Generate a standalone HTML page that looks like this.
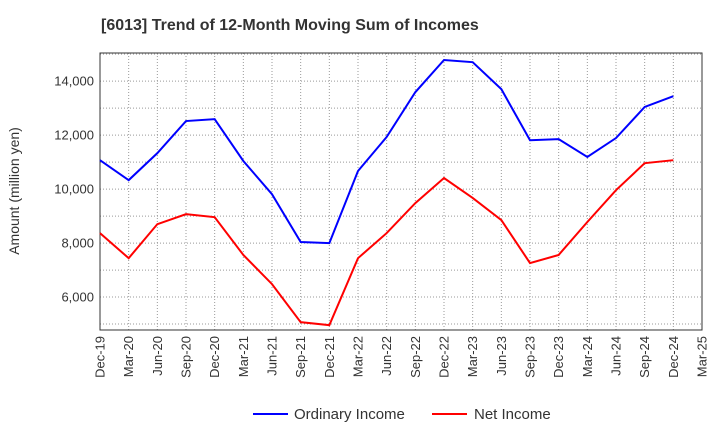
<!DOCTYPE html>
<html><head><meta charset="utf-8"><style>
body{margin:0;background:#fff;font-family:"Liberation Sans",Arial,sans-serif;}
</style></head><body>
<svg id="chart" width="720" height="440" xmlns="http://www.w3.org/2000/svg" font-family="Liberation Sans, Arial, sans-serif">
<text x="101" y="30" font-size="16" font-weight="bold" fill="#333">[6013]  Trend of 12-Month Moving Sum of Incomes</text>
<text transform="translate(19,191) rotate(-90)" text-anchor="middle" font-size="14" fill="#333">Amount (million yen)</text>
<g id="grid"></g><g id="axes"></g><g id="series"></g>
<g>
<line x1="253" y1="414" x2="288" y2="414" stroke="#0000ff" stroke-width="2"/>
<text x="294" y="419" font-size="15" fill="#333">Ordinary Income</text>
<line x1="432" y1="414" x2="467" y2="414" stroke="#ff0000" stroke-width="2"/>
<text x="474" y="419" font-size="15" fill="#333">Net Income</text>
</g>
</svg>
<script>
const categories=["Dec-19","Mar-20","Jun-20","Sep-20","Dec-20","Mar-21","Jun-21","Sep-21","Dec-21","Mar-22","Jun-22","Sep-22","Dec-22","Mar-23","Jun-23","Sep-23","Dec-23","Mar-24","Jun-24","Sep-24","Dec-24","Mar-25"];
const ordinaryIncome=[11070,10330,11330,12520,12590,11040,9810,8040,8000,10670,11930,13590,14780,14700,13700,11810,11850,11190,11890,13040,13440];
const netIncome=[8370,7440,8700,9070,8960,7560,6480,5070,4960,7440,8370,9480,10410,9670,8850,7260,7560,8780,9960,10960,11070];
const yTicks=[6000,8000,10000,12000,14000];
const ns="http://www.w3.org/2000/svg";
const L=100,R=702,T=53,B=330,yMin=4780,yMax=15040;
const x=i=>L+i*(R-L)/(categories.length-1);
const y=v=>B-(v-yMin)/(yMax-yMin)*(B-T);
function mk(tag,at,parent){const e=document.createElementNS(ns,tag);for(const k in at)e.setAttribute(k,at[k]);document.getElementById(parent).appendChild(e);return e;}
for(let i=0;i<categories.length;i++){
 const g=mk("line",{x1:x(i),x2:x(i),y1:T,y2:B,stroke:"#999","stroke-dasharray":"1,2","stroke-width":1},"grid");
 
 
 const t=mk("text",{transform:`translate(${x(i)+4.5},${B+6}) rotate(-90)`,"text-anchor":"end","font-size":13,fill:"#333"},"axes");
 t.textContent=categories[i];
 
 
}
for(let v=5000;v<=15000;v+=1000){
 const g=mk("line",{x1:L,x2:R,y1:y(v),y2:y(v),stroke:"#999","stroke-dasharray":"1,2","stroke-width":1},"grid");
 
 
}
yTicks.forEach(v=>{
 const t=mk("text",{x:L-6,y:y(v)+4.5,"text-anchor":"end","font-size":13,fill:"#333"},"axes");
 t.textContent=v.toLocaleString("en-US");
 
 
});
const fr=mk("rect",{x:L,y:T,width:R-L,height:B-T,fill:"none",stroke:"#333","stroke-width":1},"axes");


function line(data,color,name){
 const p=mk("polyline",{points:data.map((v,i)=>x(i)+","+y(v)).join(" "),fill:"none",stroke:color,"stroke-width":2},"series");
 
 
}
line(ordinaryIncome,"#0000ff","ordinary-income-line");
line(netIncome,"#ff0000","net-income-line");
</script>
</body></html>
